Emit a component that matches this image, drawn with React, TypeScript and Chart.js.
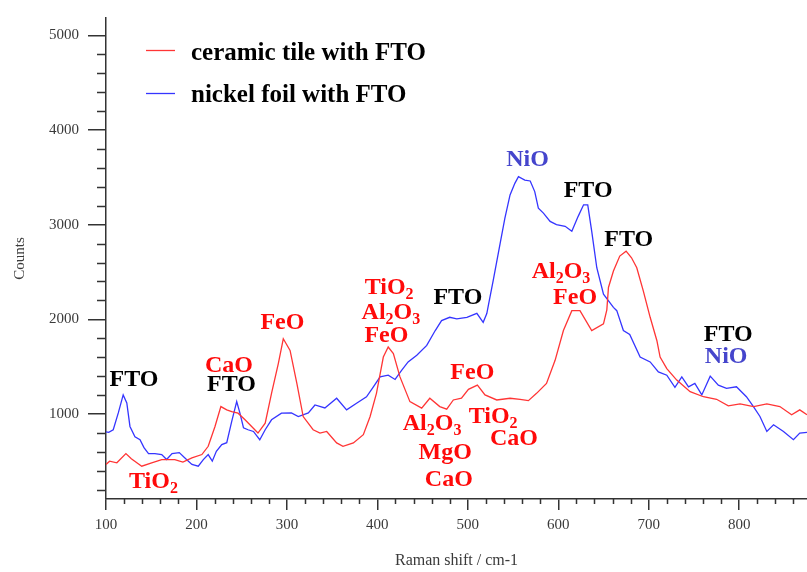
import React, { useEffect, useRef } from 'react';
import { Chart, registerables } from 'chart.js';

Chart.register(...registerables);

// ---------- data ----------
const seriesLabels = ['ceramic tile with FTO', 'nickel foil with FTO'];

const ceramicShift = [100, 104, 112, 122, 128, 139.5, 150.5, 161.6, 176, 185, 195, 206, 213, 220.5, 227, 233.5, 239, 246, 253.7, 261, 268, 276, 283, 290.5, 296, 303.5, 311, 318, 329, 336.6, 344, 355, 362, 373.5, 384.5, 392, 399, 406.6, 412, 417.7, 425, 436, 449, 458, 469, 476.7, 484, 493, 500.7, 510.6, 519, 532, 546.7, 557.8, 567, 576, 587, 596.5, 605.7, 615, 624, 637, 650, 653.7, 655.5, 661, 668, 675, 681, 686.8, 694, 701.6, 709, 712.6, 720, 731, 745.8, 760.5, 775, 788, 801, 816, 830.6, 845, 858, 867, 875];
const ceramicCounts = [465, 500, 483, 580, 525, 447, 483, 517, 517, 490, 535, 570, 657, 867, 1077, 1042, 1024, 1007, 937, 867, 797, 902, 1217, 1532, 1794, 1671, 1322, 972, 832, 797, 814, 693, 657, 693, 780, 972, 1217, 1601, 1706, 1637, 1391, 1129, 1060, 1165, 1077, 1049, 1147, 1165, 1259, 1304, 1200, 1147, 1165, 1154, 1140, 1217, 1322, 1566, 1881, 2091, 2091, 1881, 1951, 2100, 2336, 2511, 2668, 2720, 2650, 2545, 2301, 2021, 1776, 1601, 1479, 1357, 1234, 1181, 1154, 1084, 1105, 1077, 1105, 1077, 990, 1042, 990];

const nickelShift = [100, 103, 108, 113.6, 119, 123, 126.5, 132, 137.6, 142, 147, 154, 161.6, 167, 173, 181, 189, 195, 202, 207.6, 213, 217.5, 222, 228, 233.5, 239, 244.5, 248, 252, 257, 263, 270, 276, 283, 294, 305, 312.6, 323.7, 331, 342, 355, 366, 377, 388, 395.6, 403, 412, 419.6, 427, 434, 443.6, 454.6, 464, 471, 480, 487.8, 499, 510, 517, 521, 523, 528, 535.7, 541, 546.7, 552, 556, 563, 569, 574, 578, 583.6, 591, 598, 607.6, 615, 622, 628, 632.6, 637, 642.6, 650, 661, 664.7, 672, 679, 690.5, 701.6, 710.7, 720, 729, 736.6, 744, 751, 758.7, 768, 777, 786, 797, 808, 815.8, 823, 830.6, 838, 849, 860, 867, 875];
const nickelCounts = [810, 804, 832, 1010, 1200, 1115, 867, 758, 727, 643, 580, 580, 570, 517, 580, 590, 517, 465, 447, 517, 570, 500, 605, 675, 695, 920, 1130, 1010, 853, 832, 814, 727, 832, 937, 1007, 1010, 972, 1010, 1094, 1063, 1165, 1042, 1112, 1181, 1286, 1391, 1409, 1364, 1462, 1549, 1619, 1724, 1881, 1986, 2021, 2004, 2021, 2063, 1968, 2060, 2161, 2406, 2800, 3070, 3315, 3437, 3507, 3472, 3462, 3350, 3175, 3122, 3035, 3000, 2983, 2930, 3088, 3210, 3210, 2930, 2545, 2266, 2126, 2091, 1881, 1840, 1601, 1549, 1444, 1409, 1280, 1391, 1286, 1322, 1200, 1399, 1304, 1270, 1286, 1181, 1076, 972, 814, 885, 814, 727, 797, 804];

const xTickValues = [100, 200, 300, 400, 500, 600, 700, 800];
const yTickValues = [1000, 2000, 3000, 4000, 5000];

// peak labels: "_d" marks a subscript digit
const annotationText = ['FTO', 'TiO_2', 'CaO', 'FTO', 'FeO', 'TiO_2', 'Al_2O_3', 'FeO', 'FTO', 'FeO', 'Al_2O_3', 'MgO', 'CaO', 'TiO_2', 'CaO', 'NiO', 'FTO', 'FTO', 'Al_2O_3', 'FeO', 'FTO', 'NiO'];
const annotationShift = [131, 152.5, 236, 238.8, 295, 413, 415, 410, 489, 505, 460.5, 475, 479, 528, 551, 566, 633, 678, 603, 618.6, 788, 785.6];
const annotationCounts = [1378, 297, 1525, 1325, 1976, 2353, 2086, 1839, 2238, 1451, 906, 601, 318, 984, 748, 3701, 3376, 2851, 2521, 2238, 1850, 1619];
const annotationKind = ['k', 'r', 'r', 'k', 'r', 'r', 'r', 'r', 'k', 'r', 'r', 'r', 'r', 'r', 'r', 'b', 'k', 'k', 'r', 'r', 'k', 'b'];

const RED_LINE = '#ff3535';
const BLUE_LINE = '#3535ff';
const TEXT_COLORS: Record<string, string> = { r: '#ff0a0a', k: '#000000', b: '#4545cc' };
const AXIS_COLOR = '#333333';
const SERIF = '"Liberation Serif", "Times New Roman", serif';

function parseSegs(s: string) {
  const segs: { t: string; sub: boolean }[] = [];
  let i = 0;
  while (i < s.length) {
    if (s[i] === '_' && i + 1 < s.length) {
      segs.push({ t: s[i + 1], sub: true });
      i += 2;
    } else {
      let j = i;
      while (j < s.length && s[j] !== '_') j++;
      segs.push({ t: s.slice(i, j), sub: false });
      i = j;
    }
  }
  return segs;
}

const minorTicksPlugin = {
  id: 'minorTicks',
  afterDraw(chart: any) {
    const ctx = chart.ctx;
    const xs = chart.scales.x;
    const ys = chart.scales.y;
    ctx.save();
    ctx.strokeStyle = AXIS_COLOR;
    ctx.lineWidth = 1.5;
    ctx.beginPath();
    for (let v = 120; v <= 875; v += 20) {
      if (v % 100 === 0) continue;
      const px = Math.round(xs.getPixelForValue(v)) + 0.5;
      ctx.moveTo(px, xs.top);
      ctx.lineTo(px, xs.top + 5);
    }
    for (let v = 200; v <= 5100; v += 200) {
      if (v % 1000 === 0) continue;
      const py = Math.round(ys.getPixelForValue(v)) + 0.5;
      ctx.moveTo(ys.right - 9, py);
      ctx.lineTo(ys.right, py);
    }
    ctx.stroke();
    ctx.restore();
  },
};

const annotationPlugin = {
  id: 'peakLabels',
  afterDatasetsDraw(chart: any) {
    const ctx = chart.ctx;
    const xs = chart.scales.x;
    const ys = chart.scales.y;
    const size = 24;
    const subSize = 16;
    const mainFont = `bold ${size}px ${SERIF}`;
    const subFont = `bold ${subSize}px ${SERIF}`;
    ctx.save();
    ctx.textBaseline = 'alphabetic';
    ctx.textAlign = 'left';
    annotationText.forEach((txt, i) => {
      const segs = parseSegs(txt);
      let total = 0;
      const widths = segs.map((sg) => {
        ctx.font = sg.sub ? subFont : mainFont;
        const w = ctx.measureText(sg.t).width;
        total += w;
        return w;
      });
      const cx = xs.getPixelForValue(annotationShift[i]);
      const cy = ys.getPixelForValue(annotationCounts[i]);
      let x = cx - total / 2;
      const base = cy + size * 0.32;
      ctx.fillStyle = TEXT_COLORS[annotationKind[i]];
      segs.forEach((sg, k) => {
        ctx.font = sg.sub ? subFont : mainFont;
        ctx.fillText(sg.t, x, sg.sub ? base + 5 : base);
        x += widths[k];
      });
    });
    ctx.restore();
  },
};

const legendPlugin = {
  id: 'insideLegend',
  afterDraw(chart: any) {
    const ctx = chart.ctx;
    const rows = [
      { lineY: 50, baseY: 59.5 },
      { lineY: 93, baseY: 101.5 },
    ];
    ctx.save();
    chart.data.datasets.forEach((ds: any, i: number) => {
      const r = rows[i];
      ctx.strokeStyle = ds.borderColor;
      ctx.lineWidth = 1.3;
      ctx.beginPath();
      ctx.moveTo(146, r.lineY + 0.5);
      ctx.lineTo(175, r.lineY + 0.5);
      ctx.stroke();
      ctx.fillStyle = '#000';
      ctx.font = `bold 25px ${SERIF}`;
      ctx.textBaseline = 'alphabetic';
      ctx.textAlign = 'left';
      ctx.fillText(ds.label, 191, r.baseY);
    });
    ctx.restore();
  },
};

export default function App() {
  const canvasRef = useRef<HTMLCanvasElement | null>(null);

  useEffect(() => {
    if (!canvasRef.current) return;
    const chart = new Chart(canvasRef.current, {
      type: 'line',
      data: {
        datasets: [
          {
            label: seriesLabels[0],
            data: ceramicShift.map((x, i) => ({ x, y: ceramicCounts[i] })),
            borderColor: RED_LINE,
            borderWidth: 1.3,
            pointRadius: 0,
            tension: 0,
            fill: false,
          },
          {
            label: seriesLabels[1],
            data: nickelShift.map((x, i) => ({ x, y: nickelCounts[i] })),
            borderColor: BLUE_LINE,
            borderWidth: 1.3,
            pointRadius: 0,
            tension: 0,
            fill: false,
          },
        ],
      },
      options: {
        animation: false,
        responsive: false,
        devicePixelRatio: 1,
        layout: { padding: { top: 15, right: 0, left: 0, bottom: 0 } },
        plugins: {
          legend: { display: false },
          tooltip: { enabled: false },
        },
        scales: {
          x: {
            type: 'linear',
            min: 100,
            max: 875,
            afterBuildTicks: (scale: any) => {
              scale.ticks = xTickValues.map((v) => ({ value: v }));
            },
            afterFit: (scale: any) => {
              scale.height = 73;
            },
            grid: {
              drawOnChartArea: false,
              drawTicks: true,
              tickLength: 11,
              color: AXIS_COLOR,
              lineWidth: 1.5,
            },
            border: { display: true, color: AXIS_COLOR, width: 1.5 },
            ticks: {
              color: '#3a3a3a',
              font: { family: SERIF, size: 15 },
              padding: 6,
              maxRotation: 0,
              autoSkip: false,
              callback: (v: any) => String(v),
            },
            title: {
              display: true,
              text: 'Raman shift / cm-1',
              color: '#3a3a3a',
              font: { family: SERIF, size: 16 },
              padding: { top: 0, bottom: 2 },
            },
          },
          y: {
            type: 'linear',
            min: 100,
            max: 5185,
            afterBuildTicks: (scale: any) => {
              scale.ticks = yTickValues.map((v) => ({ value: v }));
            },
            afterFit: (scale: any) => {
              scale.width = 106;
            },
            grid: {
              drawOnChartArea: false,
              drawTicks: true,
              tickLength: 18,
              color: AXIS_COLOR,
              lineWidth: 1.5,
            },
            border: { display: true, color: AXIS_COLOR, width: 1.5 },
            ticks: {
              color: '#3a3a3a',
              font: { family: SERIF, size: 15 },
              padding: 9,
              autoSkip: false,
              callback: (v: any) => String(v),
            },
            title: {
              display: true,
              text: 'Counts',
              color: '#3a3a3a',
              font: { family: SERIF, size: 15 },
              padding: { top: 11, bottom: 0 },
            },
          },
        },
      },
      plugins: [minorTicksPlugin, annotationPlugin, legendPlugin],
    });
    return () => chart.destroy();
  }, []);

  return (
    <div style={{ position: 'absolute', left: 0, top: 0, width: 807, height: 572, background: '#fff' }}>
      <canvas ref={canvasRef} width={807} height={572} style={{ display: 'block' }} />
    </div>
  );
}
